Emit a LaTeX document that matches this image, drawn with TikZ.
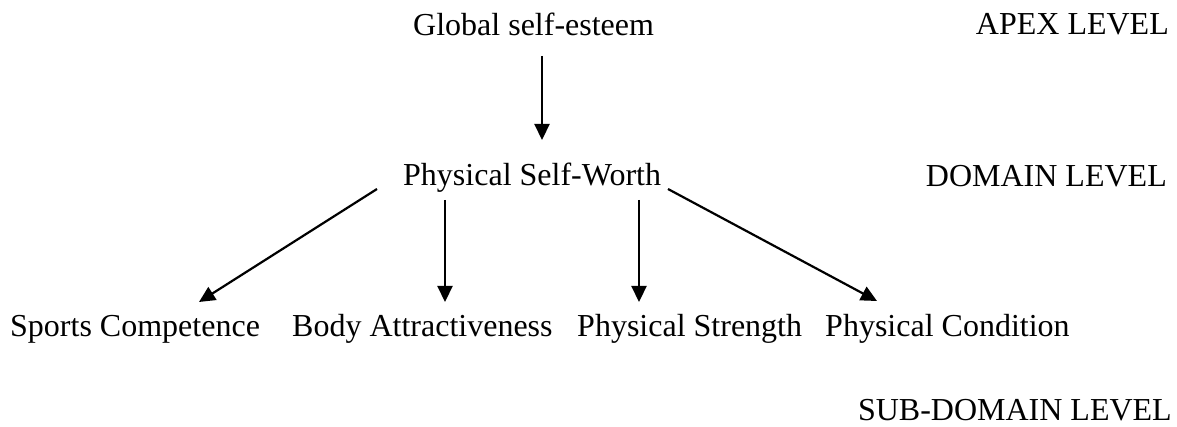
\documentclass[tikz,border=0pt]{standalone}
\usepackage{fontspec}
\setmainfont{Liberation Serif}
\usetikzlibrary{arrows.meta}
\begin{document}
\begin{tikzpicture}[x=1pt,y=-1pt,
  lbl/.style={inner sep=0pt,font=\fontsize{32}{38}\selectfont},
  arr/.style={line width=2.2pt,-{Triangle[length=16pt,width=15pt]}}]
\useasboundingbox (0,0) rectangle (1177,427);
% hierarchy labels
\node[lbl,anchor=base west] (gse) at (413,36) {Global self-esteem};
\node[lbl,anchor=base west] (psw) at (403,186) {Physical Self-Worth};
\node[lbl,anchor=base west] (sc) at (10,337) {Sports Competence};
\node[lbl,anchor=base west] (ba) at (292,337) {Body Attractiveness};
\node[lbl,anchor=base west] (ps) at (577,337) {Physical Strength};
\node[lbl,anchor=base west] (pc) at (825,337) {Physical Condition};
% level names
\node[lbl,anchor=base east] (apex) at (1169,35) {APEX LEVEL};
\node[lbl,anchor=base east] (dom) at (1167,187) {DOMAIN LEVEL};
\node[lbl,anchor=base east] (sub) at (1172,420) {SUB-DOMAIN LEVEL};
% arrow end points
\coordinate (g1) at (542,56);
\coordinate (p0) at (542,140);
\coordinate (p1) at (377,189);
\coordinate (p2) at (445,200);
\coordinate (p3) at (639,200);
\coordinate (p4) at (668,189);
\coordinate (c1) at (199,302);
\coordinate (c2) at (445,302);
\coordinate (c3) at (639,302);
\coordinate (c4) at (877,301);
% connectors
\draw[arr] (g1) -- (p0);
\draw[arr] (p1) -- (c1);
\draw[arr] (p2) -- (c2);
\draw[arr] (p3) -- (c3);
\draw[arr] (p4) -- (c4);
\end{tikzpicture}
\end{document}
